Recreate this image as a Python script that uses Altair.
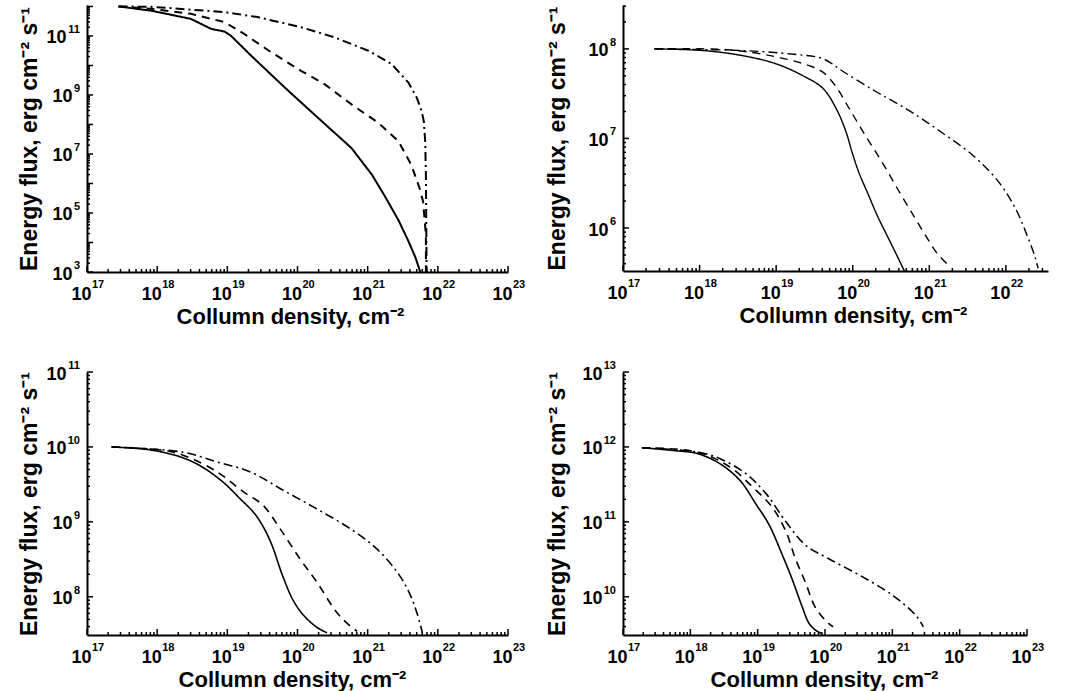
import math
import altair as alt
import pandas as pd

# ---------------- data (log10 values) ----------------
# Panel 1 (top-left)
p1_solid_N = [17.45, 17.91, 18.48, 18.77, 18.96, 19.05, 19.34, 19.82, 20.29, 20.77, 21.06, 21.25, 21.44, 21.58, 21.68, 21.75]
p1_solid_F = [12.0, 11.86, 11.58, 11.24, 11.15, 11.01, 10.33, 9.25, 8.23, 7.20, 6.30, 5.55, 4.75, 4.05, 3.5, 3.0]
p1_dash_N = [17.45, 17.91, 18.48, 18.96, 19.24, 19.63, 20.05, 20.39, 20.77, 21.15, 21.44, 21.62, 21.74, 21.79, 21.83, 21.83]
p1_dash_F = [12.0, 11.92, 11.75, 11.47, 11.07, 10.44, 9.82, 9.36, 8.68, 8.06, 7.43, 6.64, 5.84, 5.39, 4.25, 3.0]
p1_dd_N = [17.45, 17.91, 18.96, 19.43, 20.05, 20.53, 21.01, 21.34, 21.58, 21.70, 21.77, 21.80, 21.82, 21.83, 21.84]
p1_dd_F = [12.0, 11.99, 11.81, 11.64, 11.30, 10.95, 10.50, 10.05, 9.42, 8.91, 8.45, 8.11, 7.43, 6.30, 3.0]

# Panel 2 (top-right)
p2_solid_N = [17.41, 18.07, 18.59, 19.01, 19.35, 19.61, 19.78, 19.91, 19.99, 20.08, 20.20, 20.32, 20.44, 20.55, 20.68]
p2_solid_F = [8.0, 7.98, 7.92, 7.83, 7.70, 7.56, 7.34, 7.08, 6.85, 6.62, 6.38, 6.14, 5.93, 5.74, 5.51]
p2_dash_N = [17.41, 18.37, 19.01, 19.44, 19.61, 19.78, 19.95, 20.16, 20.38, 20.59, 20.80, 20.97, 21.10, 21.23]
p2_dash_F = [8.0, 7.99, 7.91, 7.81, 7.74, 7.58, 7.34, 7.04, 6.74, 6.43, 6.13, 5.89, 5.72, 5.60]
p2_dd_N = [17.41, 18.59, 19.23, 19.61, 19.87, 20.29, 20.72, 21.14, 21.57, 21.91, 22.13, 22.28, 22.38, 22.42]
p2_dd_F = [8.0, 7.98, 7.94, 7.89, 7.75, 7.53, 7.32, 7.08, 6.81, 6.51, 6.21, 5.91, 5.68, 5.55]

# Panel 3 (bottom-left)
p3_solid_N = [17.35, 17.90, 18.32, 18.61, 18.94, 19.18, 19.38, 19.52, 19.64, 19.78, 19.94, 20.09, 20.28, 20.42]
p3_solid_F = [10.0, 9.96, 9.87, 9.75, 9.53, 9.31, 9.12, 8.92, 8.68, 8.30, 7.95, 7.75, 7.59, 7.52]
p3_dash_N = [17.35, 18.04, 18.37, 18.85, 19.23, 19.51, 19.75, 20.04, 20.28, 20.56, 20.75, 20.85]
p3_dash_F = [10.0, 9.96, 9.89, 9.67, 9.40, 9.22, 8.91, 8.50, 8.19, 7.79, 7.61, 7.54]
p3_dd_N = [17.35, 18.37, 18.85, 19.32, 19.80, 20.28, 20.75, 21.13, 21.42, 21.59, 21.70, 21.78]
p3_dd_F = [10.0, 9.93, 9.80, 9.67, 9.42, 9.17, 8.91, 8.64, 8.33, 8.06, 7.79, 7.52]

# Panel 4 (bottom-right)
p4_solid_N = [17.28, 17.77, 18.11, 18.45, 18.74, 18.98, 19.17, 19.37, 19.51, 19.66, 19.76, 19.85, 19.95]
p4_solid_F = [11.99, 11.95, 11.91, 11.77, 11.55, 11.23, 10.96, 10.55, 10.24, 9.87, 9.65, 9.56, 9.51]
p4_dash_N = [17.28, 18.11, 18.59, 18.93, 19.22, 19.42, 19.56, 19.71, 19.85, 20.0, 20.12]
p4_dash_F = [11.99, 11.93, 11.73, 11.46, 11.19, 10.87, 10.51, 10.19, 9.87, 9.69, 9.60]
p4_dd_N = [17.28, 18.11, 18.45, 18.83, 19.13, 19.42, 19.71, 20.05, 20.53, 21.02, 21.36, 21.46]
p4_dd_F = [11.99, 11.93, 11.84, 11.64, 11.37, 11.0, 10.69, 10.51, 10.28, 10.01, 9.74, 9.60]

# axis ranges (log10) and labelled exponents
x_ranges = [(17, 23), (17, 22.55), (17, 23), (17, 23)]
y_ranges = [(3, 12.05), (5.52, 8.49), (7.49, 11.0), (9.49, 13.0)]
x_label_exps = [[17, 18, 19, 20, 21, 22, 23], [17, 18, 19, 20, 21, 22], [17, 18, 19, 20, 21, 22, 23], [17, 18, 19, 20, 21, 22, 23]]
y_label_exps = [[3, 5, 7, 9, 11], [6, 7, 8], [8, 9, 10, 11], [10, 11, 12, 13]]

X_TITLE = "Collumn density, cm⁻²"
Y_TITLE = "Energy flux, erg cm⁻² s⁻¹"
FONT = "Liberation Sans"


def tick_values(lo, hi):
    major, minor = [], []
    for d in range(math.floor(lo), math.ceil(hi) + 1):
        for k in range(1, 10):
            v = k * 10.0 ** d
            lv = math.log10(v)
            if lo - 1e-9 <= lv <= hi + 1e-9:
                (major if k == 1 else minor).append(v)
    return major, minor


def panel(curves, xr, yr, xexps, yexps, w, h, lw, yext, xtitle_x, interp):
    rows = []
    for name, Ns, Fs in curves:
        for i, (n, f) in enumerate(zip(Ns, Fs)):
            rows.append({"N": 10 ** n, "F": 10 ** f, "s": name, "i": i})
    df = pd.DataFrame(rows)
    xs = alt.Scale(type="log", domain=[10 ** xr[0], 10 ** xr[1]], nice=False)
    ys = alt.Scale(type="log", domain=[10 ** yr[0], 10 ** yr[1]], nice=False)
    common = dict(grid=False, ticks=False, domainColor="black", domainWidth=2,
                  labelFont=FONT, labelFontSize=18, labelFontWeight="bold", labelColor="black",
                  titleFont=FONT, titleFontWeight="bold", titleColor="black",
                  labelOverlap=False, labelFlush=False, labelExpr="'10'")
    ax_x = alt.Axis(values=[10.0 ** e for e in xexps], title=X_TITLE, titlePadding=3, titleFontSize=22,
                    titleX=xtitle_x, labelPadding=13, labelOffset=-6, **common)
    ax_y = alt.Axis(values=[10.0 ** e for e in yexps], title=Y_TITLE, titlePadding=7, titleFontSize=23,
                    minExtent=yext, maxExtent=yext, labelOffset=2,
                    labelPadding={"condition": {"test": "datum.value >= 9e9", "value": 21}, "value": 15},
                    **common)

    lines = alt.Chart(df).mark_line(color="black", strokeWidth=lw, clip=True, interpolate=interp).encode(
        x=alt.X("N:Q", scale=xs, axis=ax_x),
        y=alt.Y("F:Q", scale=ys, axis=ax_y),
        detail="s:N",
        order="i:Q",
        strokeDash=alt.StrokeDash("s:N", scale=alt.Scale(domain=["solid", "dashed", "dashdot"],
                                                          range=[[1, 0], [8, 6], [9, 4, 2, 4]]), legend=None),
    )
    xmaj, xmin = tick_values(*xr)
    ymaj, ymin = tick_values(*yr)
    layers = []
    for vals, ln in ((xmaj, 6), (xmin, 3)):
        layers.append(alt.Chart(pd.DataFrame({"N": vals})).mark_rule(color="black", strokeWidth=1.5).encode(
            x=alt.X("N:Q", scale=xs, axis=ax_x), y=alt.value(h), y2=alt.value(h - ln)))
    for vals, ln in ((ymaj, 6), (ymin, 3)):
        layers.append(alt.Chart(pd.DataFrame({"F": vals})).mark_rule(color="black", strokeWidth=1.5).encode(
            y=alt.Y("F:Q", scale=ys, axis=ax_y), x=alt.value(0), x2=alt.value(ln)))
    # exponents of the tick labels (10^n)
    xe = pd.DataFrame({"N": [10.0 ** e for e in xexps], "t": [str(e) for e in xexps]})
    layers.append(alt.Chart(xe).mark_text(align="left", baseline="alphabetic", font=FONT, fontSize=11,
                                          fontWeight="bold", color="black", dx=5).encode(
        x=alt.X("N:Q", scale=xs, axis=ax_x), y=alt.value(h + 16), text="t:N"))
    ye = pd.DataFrame({"F": [10.0 ** e for e in yexps], "t": [str(e) for e in yexps]})
    layers.append(alt.Chart(ye).mark_text(align="right", baseline="alphabetic", font=FONT, fontSize=11,
                                          fontWeight="bold", color="black", dy=-3).encode(
        y=alt.Y("F:Q", scale=ys, axis=ax_y), x=alt.value(-7), text="t:N"))
    layers.append(lines)
    return alt.layer(*layers).properties(width=w, height=h)


p1 = panel([("solid", p1_solid_N, p1_solid_F), ("dashed", p1_dash_N, p1_dash_F), ("dashdot", p1_dd_N, p1_dd_F)],
           x_ranges[0], y_ranges[0], x_label_exps[0], y_label_exps[0], 421, 267, 2, 39, 203, "linear")
p2 = panel([("solid", p2_solid_N, p2_solid_F), ("dashed", p2_dash_N, p2_dash_F), ("dashdot", p2_dd_N, p2_dd_F)],
           x_ranges[1], y_ranges[1], x_label_exps[1], y_label_exps[1], 425, 266, 1.4, 47, 230, "catmull-rom")
p3 = panel([("solid", p3_solid_N, p3_solid_F), ("dashed", p3_dash_N, p3_dash_F), ("dashdot", p3_dd_N, p3_dd_F)],
           x_ranges[2], y_ranges[2], x_label_exps[2], y_label_exps[2], 421, 263, 1.6, 39, 205, "catmull-rom")
p4 = panel([("solid", p4_solid_N, p4_solid_F), ("dashed", p4_dash_N, p4_dash_F), ("dashdot", p4_dd_N, p4_dd_F)],
           x_ranges[3], y_ranges[3], x_label_exps[3], y_label_exps[3], 404, 263, 1.6, 47, 201, "catmull-rom")

chart = alt.concat(p1, p2, p3, p4, columns=2, spacing={"row": 100, "column": 115}, bounds="flush").properties(
    padding={"left": 17, "top": 5, "right": 5, "bottom": 5},
    background="white",
).configure_view(stroke=None)

chart.save("out.html", embed_options={"renderer": "svg", "actions": False})
